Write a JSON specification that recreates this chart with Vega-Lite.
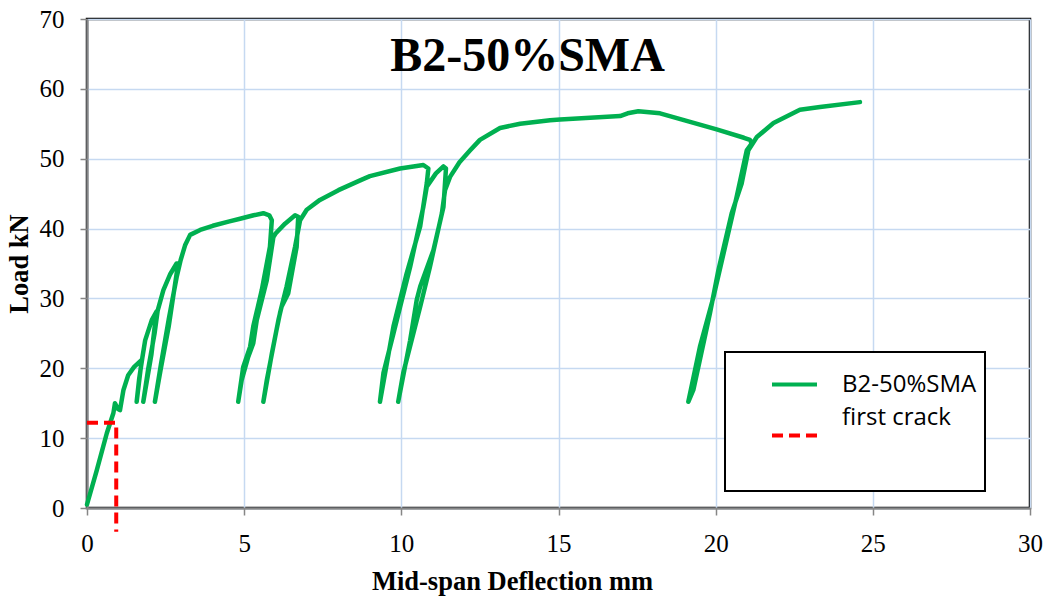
{
  "$schema": "https://vega.github.io/schema/vega-lite/v6.json",
  "width": 943,
  "height": 489,
  "autosize": {"type": "none"},
  "padding": {"left": 87, "top": 19, "right": 18, "bottom": 90},
  "background": "white",
  "title": {
    "text": "B2-50%SMA",
    "font": "Liberation Serif",
    "fontSize": 48,
    "fontWeight": "bold",
    "color": "black",
    "anchor": "middle",
    "frame": "group",
    "baseline": "alphabetic",
    "offset": -49,
    "dx": -31,
    "dy": 63
  },
  "config": {
    "view": {"stroke": "black", "strokeWidth": 2.5},
    "axis": {
      "labelFont": "Liberation Serif",
      "labelFontSize": 25,
      "labelColor": "black",
      "labelFlush": false,
      "titleFont": "Liberation Serif",
      "titleFontSize": 26.5,
      "titleFontWeight": "bold",
      "titleColor": "black",
      "domainColor": "#868686",
      "domainWidth": 2,
      "tickColor": "#868686",
      "tickWidth": 1.5,
      "tickSize": 7,
      "gridColor": "#C6D9F1",
      "gridWidth": 1.5
    }
  },
  "datasets": {
    "curve": [
      {"i": 1, "x": 0, "y": 0.5},
      {"i": 2, "x": 0.31, "y": 5.4},
      {"i": 3, "x": 0.63, "y": 10.7},
      {"i": 4, "x": 0.84, "y": 13.6},
      {"i": 5, "x": 0.89, "y": 15.0},
      {"i": 6, "x": 0.98, "y": 14.2},
      {"i": 7, "x": 1.05, "y": 14.0},
      {"i": 8, "x": 1.16, "y": 16.9},
      {"i": 9, "x": 1.31, "y": 19.0},
      {"i": 10, "x": 1.5, "y": 20.2},
      {"i": 11, "x": 1.74, "y": 21.2},
      {"i": 12, "x": 1.58, "y": 15.2},
      {"i": 13, "x": 1.66, "y": 18.5},
      {"i": 14, "x": 1.76, "y": 21.5},
      {"i": 15, "x": 1.85, "y": 24.0},
      {"i": 16, "x": 2.06, "y": 26.9},
      {"i": 17, "x": 2.21, "y": 28.1},
      {"i": 18, "x": 2.05, "y": 22.0},
      {"i": 19, "x": 1.79, "y": 15.2},
      {"i": 20, "x": 1.95, "y": 20.0},
      {"i": 21, "x": 2.15, "y": 25.0},
      {"i": 22, "x": 2.25, "y": 28.3},
      {"i": 23, "x": 2.43, "y": 31.2},
      {"i": 24, "x": 2.65, "y": 33.5},
      {"i": 25, "x": 2.85, "y": 35.0},
      {"i": 26, "x": 2.9, "y": 35.0},
      {"i": 27, "x": 2.6, "y": 26.0},
      {"i": 28, "x": 2.35, "y": 20.0},
      {"i": 29, "x": 2.16, "y": 15.2},
      {"i": 30, "x": 2.35, "y": 20.5},
      {"i": 31, "x": 2.6, "y": 27.0},
      {"i": 32, "x": 2.85, "y": 33.0},
      {"i": 33, "x": 2.98, "y": 35.5},
      {"i": 34, "x": 3.12, "y": 37.6},
      {"i": 35, "x": 3.28, "y": 39.1},
      {"i": 36, "x": 3.6, "y": 39.8},
      {"i": 37, "x": 4.0, "y": 40.4},
      {"i": 38, "x": 4.5, "y": 41.0},
      {"i": 39, "x": 4.87, "y": 41.4},
      {"i": 40, "x": 5.3, "y": 41.9},
      {"i": 41, "x": 5.61, "y": 42.2},
      {"i": 42, "x": 5.8, "y": 41.9},
      {"i": 43, "x": 5.88, "y": 41.2},
      {"i": 44, "x": 5.82, "y": 37.4},
      {"i": 45, "x": 5.56, "y": 31.2},
      {"i": 46, "x": 5.29, "y": 26.0},
      {"i": 47, "x": 5.19, "y": 23.1},
      {"i": 48, "x": 4.97, "y": 20.2},
      {"i": 49, "x": 4.81, "y": 15.2},
      {"i": 50, "x": 4.92, "y": 18.3},
      {"i": 51, "x": 5.12, "y": 21.5},
      {"i": 52, "x": 5.29, "y": 23.6},
      {"i": 53, "x": 5.40, "y": 26.9},
      {"i": 54, "x": 5.72, "y": 32.6},
      {"i": 55, "x": 5.93, "y": 38.8},
      {"i": 56, "x": 6.0, "y": 39.3},
      {"i": 57, "x": 6.3, "y": 40.7},
      {"i": 58, "x": 6.62, "y": 41.9},
      {"i": 59, "x": 6.72, "y": 41.7},
      {"i": 60, "x": 6.67, "y": 37.4},
      {"i": 61, "x": 6.40, "y": 30.7},
      {"i": 62, "x": 6.19, "y": 28.8},
      {"i": 63, "x": 6.09, "y": 26.9},
      {"i": 64, "x": 5.88, "y": 22.1},
      {"i": 65, "x": 5.61, "y": 15.2},
      {"i": 66, "x": 5.72, "y": 18.3},
      {"i": 67, "x": 6.03, "y": 25.5},
      {"i": 68, "x": 6.14, "y": 27.9},
      {"i": 69, "x": 6.35, "y": 31.7},
      {"i": 70, "x": 6.62, "y": 37.4},
      {"i": 71, "x": 6.78, "y": 41.2},
      {"i": 72, "x": 6.99, "y": 42.7},
      {"i": 73, "x": 7.41, "y": 44.1},
      {"i": 74, "x": 8.0, "y": 45.5},
      {"i": 75, "x": 8.69, "y": 46.9},
      {"i": 76, "x": 9.0, "y": 47.5},
      {"i": 77, "x": 9.96, "y": 48.6},
      {"i": 78, "x": 10.7, "y": 49.1},
      {"i": 79, "x": 10.86, "y": 48.6},
      {"i": 80, "x": 10.81, "y": 46.5},
      {"i": 81, "x": 10.6, "y": 40.3},
      {"i": 82, "x": 10.17, "y": 33.6},
      {"i": 83, "x": 9.75, "y": 26.0},
      {"i": 84, "x": 9.32, "y": 15.2},
      {"i": 85, "x": 9.43, "y": 19.3},
      {"i": 86, "x": 9.75, "y": 25.0},
      {"i": 87, "x": 10.28, "y": 34.5},
      {"i": 88, "x": 10.70, "y": 43.1},
      {"i": 89, "x": 10.81, "y": 46.0},
      {"i": 90, "x": 11.1, "y": 47.9},
      {"i": 91, "x": 11.34, "y": 48.9},
      {"i": 92, "x": 11.42, "y": 48.6},
      {"i": 93, "x": 11.34, "y": 43.1},
      {"i": 94, "x": 11.02, "y": 36.9},
      {"i": 95, "x": 10.60, "y": 31.7},
      {"i": 96, "x": 10.49, "y": 29.8},
      {"i": 97, "x": 10.28, "y": 24.0},
      {"i": 98, "x": 9.90, "y": 15.2},
      {"i": 99, "x": 10.06, "y": 19.3},
      {"i": 100, "x": 10.60, "y": 28.8},
      {"i": 101, "x": 10.91, "y": 34.5},
      {"i": 102, "x": 11.29, "y": 42.2},
      {"i": 103, "x": 11.39, "y": 45.5},
      {"i": 104, "x": 11.55, "y": 47.4},
      {"i": 105, "x": 11.85, "y": 49.5},
      {"i": 106, "x": 12.19, "y": 51.2},
      {"i": 107, "x": 12.5, "y": 52.7},
      {"i": 108, "x": 13.14, "y": 54.4},
      {"i": 109, "x": 13.78, "y": 55.0},
      {"i": 110, "x": 14.73, "y": 55.5},
      {"i": 111, "x": 15.05, "y": 55.6},
      {"i": 112, "x": 16.96, "y": 56.1},
      {"i": 113, "x": 17.2, "y": 56.5},
      {"i": 114, "x": 17.54, "y": 56.8},
      {"i": 115, "x": 18.23, "y": 56.5},
      {"i": 116, "x": 20.03, "y": 54.2},
      {"i": 117, "x": 20.9, "y": 53.0},
      {"i": 118, "x": 21.09, "y": 52.7},
      {"i": 119, "x": 21.15, "y": 52.2},
      {"i": 120, "x": 20.99, "y": 51.2},
      {"i": 121, "x": 20.67, "y": 44.6},
      {"i": 122, "x": 20.30, "y": 37.4},
      {"i": 123, "x": 19.93, "y": 30.2},
      {"i": 124, "x": 19.50, "y": 23.1},
      {"i": 125, "x": 19.13, "y": 15.2},
      {"i": 126, "x": 19.29, "y": 16.9},
      {"i": 127, "x": 19.82, "y": 27.9},
      {"i": 128, "x": 20.09, "y": 34.1},
      {"i": 129, "x": 20.51, "y": 42.2},
      {"i": 130, "x": 20.83, "y": 46.5},
      {"i": 131, "x": 21.04, "y": 51.2},
      {"i": 132, "x": 21.31, "y": 53.1},
      {"i": 133, "x": 21.84, "y": 55.1},
      {"i": 134, "x": 22.68, "y": 57.0},
      {"i": 135, "x": 23.32, "y": 57.4},
      {"i": 136, "x": 24.59, "y": 58.1}
    ],
    "crack": [
      {"i": 1, "x": 0, "y": 12.2},
      {"i": 2, "x": 0.93, "y": 12.2},
      {"i": 3, "x": 0.93, "y": -3.4}
    ]
  },
  "encoding": {
    "x": {
      "field": "x",
      "type": "quantitative",
      "scale": {"domain": [0, 30], "nice": false, "zero": false},
      "axis": {"values": [0, 5, 10, 15, 20, 25, 30], "title": "Mid-span Deflection mm", "labelPadding": 16, "titlePadding": 12, "titleX": 425}
    },
    "y": {
      "field": "y",
      "type": "quantitative",
      "scale": {"domain": [0, 70], "nice": false, "zero": false},
      "axis": {"values": [0, 10, 20, 30, 40, 50, 60, 70], "title": "Load kN", "labelPadding": 16, "titlePadding": 6}
    },
    "order": {"field": "i", "type": "quantitative"},
    "color": {
      "field": "series",
      "type": "nominal",
      "scale": {"domain": ["B2-50%SMA", "first crack"], "range": ["#00B050", "#FF0000"]},
      "legend": {
        "title": " ",
        "titleOrient": "bottom",
        "titleFontSize": 10,
        "titlePadding": 29,
        "orient": "none",
        "legendX": 638,
        "legendY": 333,
        "padding": 8,
        "strokeColor": "black",
        "fillColor": "white",
        "symbolType": "stroke",
        "symbolSize": 2025,
        "symbolStrokeWidth": 4,
        "symbolOffset": 37,
        "labelOffset": 23,
        "labelFont": "Open Sans",
        "labelFontSize": 24,
        "labelColor": "black",
        "labelLimit": 400,
        "rowPadding": 8,
        "encode": {
          "legend": {"update": {"strokeWidth": {"value": 2}}},
          "labels": {
            "update": {
              "text": {"signal": "datum.label + '\u00a0\u00a0\u00a0\u00a0'"},
              "dy": {"signal": "datum.value == 'first crack' ? -18 : 0"}
            }
          },
          "symbols": {
            "update": {
              "strokeDash": {"signal": "datum.value == 'first crack' ? [11, 6] : [1, 0]"}
            }
          }
        }
      }
    }
  },
  "layer": [
    {
      "data": {"name": "curve"},
      "transform": [{"calculate": "'B2-50%SMA'", "as": "series"}],
      "mark": {"type": "line", "strokeWidth": 4.5, "strokeCap": "round", "strokeJoin": "round", "clip": false}
    },
    {
      "data": {"name": "crack"},
      "transform": [{"calculate": "'first crack'", "as": "series"}],
      "mark": {"type": "line", "strokeWidth": 4, "strokeDash": [11, 6], "clip": false}
    }
  ]
}
